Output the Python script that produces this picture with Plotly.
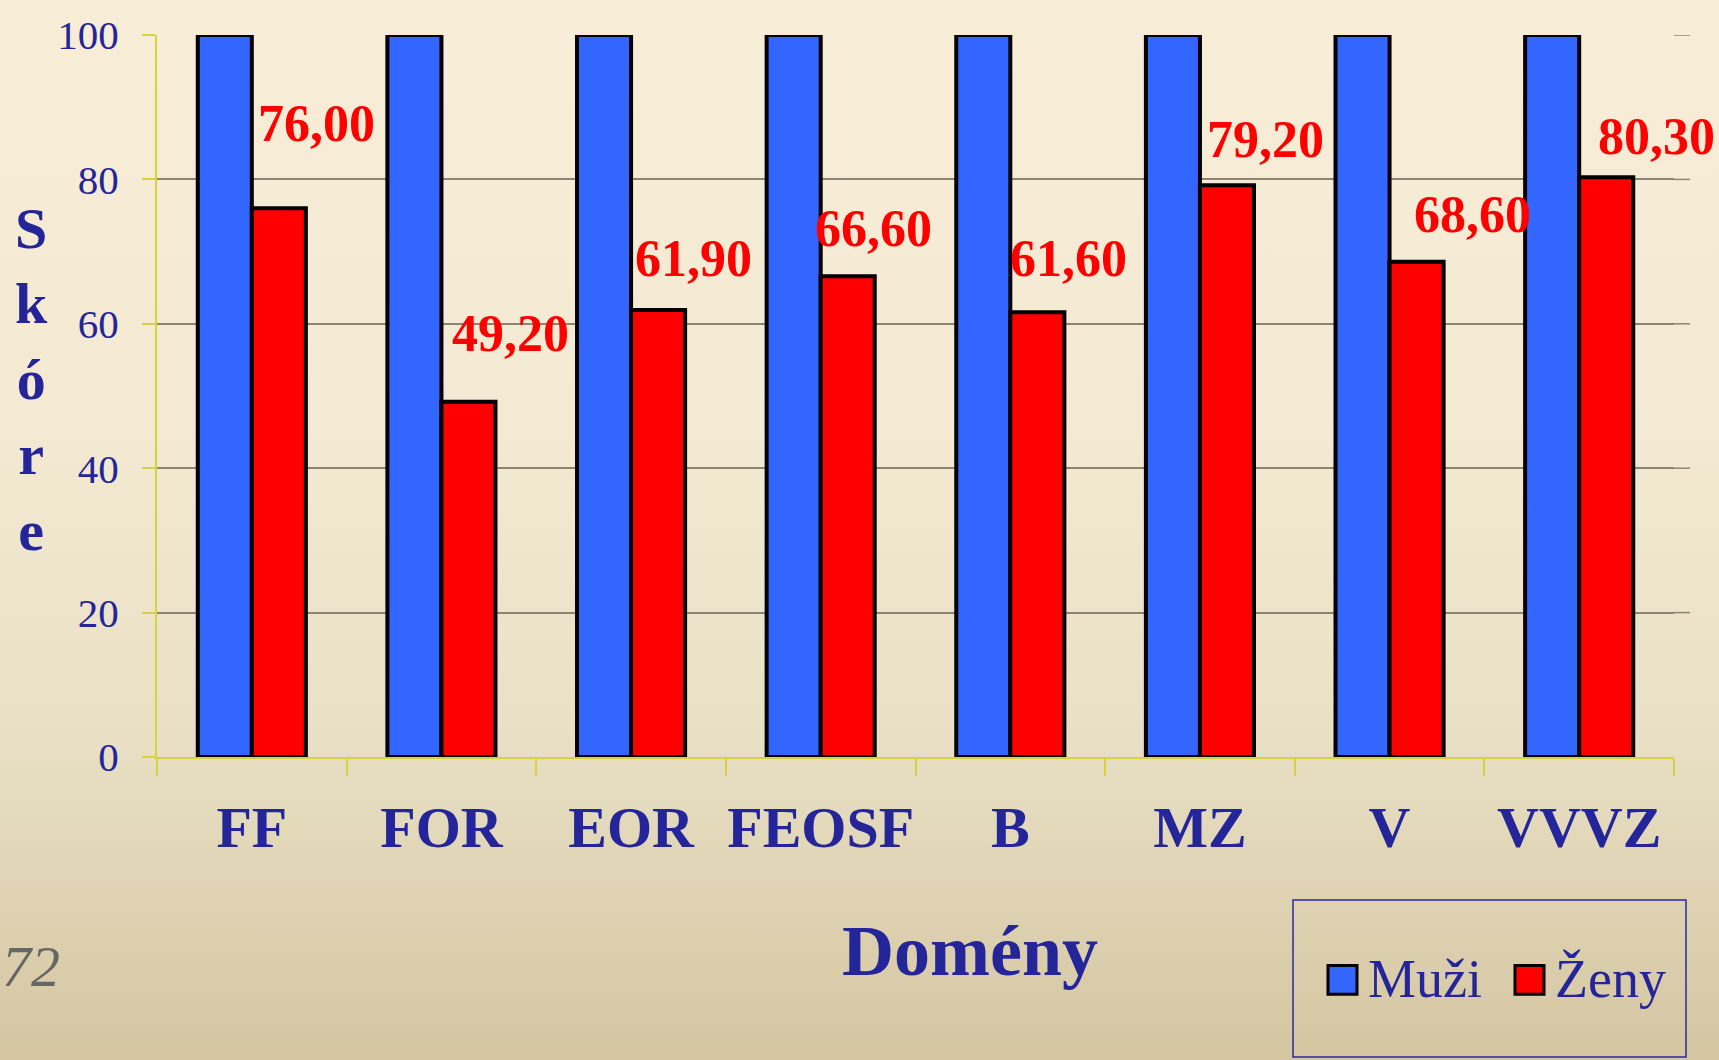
import base64
import plotly.graph_objects as go

# --- data -------------------------------------------------------------
domains = ["FF", "FOR", "EOR", "FEOSF", "B", "MZ", "V", "VVVZ"]
muzi = [100, 100, 100, 100, 100, 100, 100, 100]
zeny = [76.00, 49.20, 61.90, 66.60, 61.60, 79.20, 68.60, 80.30]
series_names = ["Muži", "Ženy"]
y_ticks = [0, 20, 40, 60, 80, 100]

# --- styling ----------------------------------------------------------
BLUE = "#3366FF"
RED = "#FF0000"
NAVY = "#25259A"
AXIS_YELLOW = "#D8D240"
GRID = "#8A8672"
SERIF = "Times New Roman, Liberation Serif, serif"

W, H = 1719, 1060
M_L, M_R, M_T, M_B = 157, 45, 30, 303
plot_w = W - M_L - M_R
plot_h = H - M_T - M_B

# per-label nudges (px) for the value labels above the red bars
label_dx = [65, 69, 62, 53, 58, 66, 83, 77]
label_dy = [85, 68, 52, 48, 54, 46, 47, 41]

# vertical cream-to-tan gradient for the page background
svg = (
    "<svg xmlns='http://www.w3.org/2000/svg' width='100' height='100' preserveAspectRatio='none'>"
    "<defs><linearGradient id='g' x1='0' y1='0' x2='0' y2='1'>"
    "<stop offset='0' stop-color='#F8EED7'/>"
    "<stop offset='0.40' stop-color='#F4EAD3'/>"
    "<stop offset='0.70' stop-color='#E8DFC4'/>"
    "<stop offset='1' stop-color='#D4C5A0'/>"
    "</linearGradient></defs>"
    "<rect width='100' height='100' fill='url(#g)'/></svg>"
)
bg_src = "data:image/svg+xml;base64," + base64.b64encode(svg.encode()).decode()


def px_x(px):
    return (px - M_L) / plot_w


def px_y(py):
    return (H - M_B - py) / plot_h


fig = go.Figure()
fig.add_trace(go.Bar(
    x=domains, y=muzi, name=series_names[0],
    marker=dict(color=BLUE, line=dict(color="black", width=4)),
))
fig.add_trace(go.Bar(
    x=domains, y=zeny, name=series_names[1],
    marker=dict(color=RED, line=dict(color="black", width=4)),
))

annotations = []
for i, (d, v) in enumerate(zip(domains, zeny)):
    annotations.append(dict(
        x=d, y=v, xref="x", yref="y",
        text=f"{v:.2f}".replace(".", ","),
        showarrow=False, xanchor="center", yanchor="middle",
        xshift=label_dx[i], yshift=label_dy[i],
        font=dict(family=SERIF, size=52, color=RED, weight="bold"),
    ))

# axis titles
annotations.append(dict(
    x=px_x(31), y=px_y(377), xref="paper", yref="paper", text="S<br>k<br>ó<br>r<br>e",
    showarrow=False, xanchor="center", yanchor="middle",
    font=dict(family=SERIF, size=58, color=NAVY, weight="bold"),
))
annotations.append(dict(
    x=px_x(970), y=px_y(952), xref="paper", yref="paper",
    text="Domény", showarrow=False, xanchor="center", yanchor="middle",
    font=dict(family=SERIF, size=72, color=NAVY, weight="bold"),
))
# slide number
annotations.append(dict(
    x=px_x(62), y=px_y(968), xref="paper", yref="paper",
    text="<i>72</i>", showarrow=False, xanchor="right", yanchor="middle",
    font=dict(family=SERIF, size=58, color="#666666"),
))

shapes = []
# gridlines run slightly past the last category boundary
for t in y_ticks[1:]:
    shapes.append(dict(
        type="line", xref="paper", yref="y", x0=1, x1=px_x(1690), y0=t, y1=t,
        line=dict(color=GRID, width=1.5), layer="below",
    ))

# hand-drawn legend: framed box with large colour swatches
shapes.append(dict(
    type="rect", xref="paper", yref="paper",
    x0=px_x(1293), x1=px_x(1686), y0=px_y(1059), y1=px_y(901),
    line=dict(color="#2A2A9C", width=1.5), fillcolor="rgba(0,0,0,0)", layer="above",
))
legend_items = [(series_names[0], BLUE, 1328), (series_names[1], RED, 1515)]
for name, col, sx in legend_items:
    shapes.append(dict(
        type="rect", xref="paper", yref="paper",
        x0=px_x(sx), x1=px_x(sx + 29), y0=px_y(996), y1=px_y(967),
        line=dict(color="black", width=3), fillcolor=col, layer="above",
    ))
    annotations.append(dict(
        x=px_x(sx + 38), y=px_y(981), xref="paper", yref="paper",
        text=name, showarrow=False, xanchor="left", yanchor="middle",
        font=dict(family=SERIF, size=54, color=NAVY),
    ))

fig.update_layout(
    width=W, height=H,
    margin=dict(l=M_L, r=M_R, t=M_T, b=M_B),
    paper_bgcolor="#F1E7CF",
    plot_bgcolor="rgba(0,0,0,0)",
    barmode="group", bargap=0.43, bargroupgap=0,
    showlegend=False,
    annotations=annotations,
    shapes=shapes,
    images=[dict(
        source=bg_src, xref="paper", yref="paper",
        x=px_x(-10), y=px_y(-10),
        sizex=(W + 20) / plot_w, sizey=(H + 20) / plot_h,
        sizing="stretch", layer="below", xanchor="left", yanchor="top",
    )],
    xaxis=dict(
        type="category", range=[-0.5, len(domains) - 0.5], tickson="boundaries",
        tickangle=0,
        ticks="outside", ticklen=17, tickcolor=AXIS_YELLOW, tickwidth=2,
        showline=True, linecolor=AXIS_YELLOW, linewidth=2,
        showgrid=False,
        tickfont=dict(family=SERIF, size=58, color=NAVY, weight="bold"),
        ticklabelstandoff=18,
    ),
    yaxis=dict(
        range=[0, 100], tickvals=y_ticks,
        ticks="outside", ticklen=13, tickcolor=AXIS_YELLOW, tickwidth=2,
        showline=True, linecolor=AXIS_YELLOW, linewidth=2,
        showgrid=True, gridcolor=GRID, gridwidth=1.5,
        zeroline=False,
        tickfont=dict(family=SERIF, size=41, color=NAVY),
        ticklabelstandoff=15,
    ),
)

fig.write_html("out.html", config={"displayModeBar": False})
